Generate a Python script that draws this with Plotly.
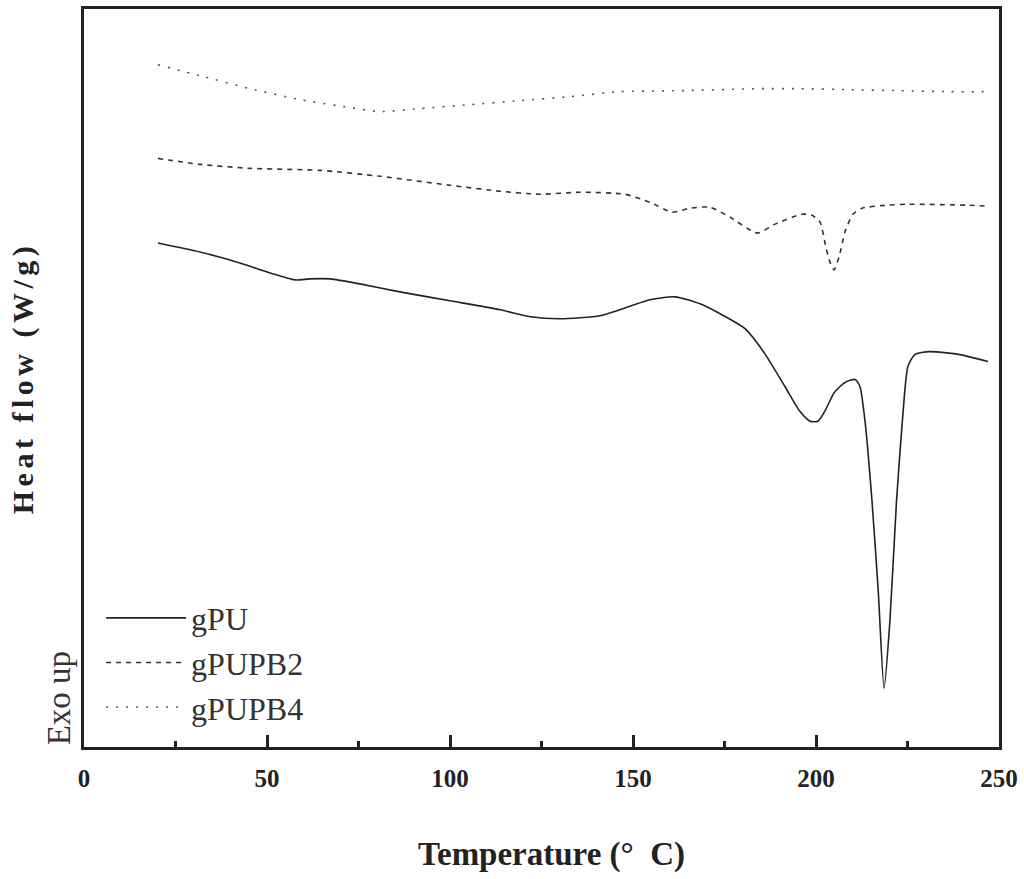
import plotly.graph_objects as go

# Temperature (°C) and heat flow (arbitrary units)
t_gpu = [20.2, 31.7, 42.6, 50.8, 57.7, 61.7, 67.2, 75.4, 86.3, 100.0, 113.7, 121.9, 130.0,
         141.0, 146.4, 154.6, 161.5, 168.3, 173.8, 180.6, 186.0, 191.5, 195.6, 198.4,
         200.5, 202.4, 205.0, 207.9, 210.7, 212.0, 213.4, 215.3, 217.0, 218.6, 220.2,
         222.0, 223.8, 225.1, 227.0, 231.0, 239.3, 247.0]
hf_gpu = [506, 497, 486, 476, 469, 470, 470, 465, 457, 448, 439, 432, 430,
          433, 439, 449, 452, 445, 435, 420, 395, 362, 337, 327,
          327, 337, 356, 366, 369, 362, 327, 247, 157, 59, 127,
          247, 337, 382, 394, 397, 394, 387]

t_b2 = [20.2, 31.7, 45.4, 64.5, 80.9, 100.0, 113.7, 124.6, 135.5, 147.8, 154.6, 160.7,
        165.6, 171.0, 176.5, 184.0, 188.8, 196.2, 198.9, 201.1, 202.7, 203.8, 204.9,
        206.3, 207.9, 210.1, 212.6, 219.4, 224.9, 241.3, 247.0]
hf_b2 = [591, 585, 581, 579, 573, 564, 558, 555, 557, 555, 547, 537,
         541, 542, 532, 516, 525, 535, 534, 527, 502, 487, 479,
         492, 517, 535, 541, 544, 545, 544, 543]

t_b4 = [20.2, 31.7, 45.4, 59.0, 72.7, 80.9, 91.8, 105.5, 119.1, 132.8, 146.4, 162.8,
        184.7, 195.6, 209.3, 222.9, 236.6, 247.0]
hf_b4 = [685, 674, 661, 650, 642, 638, 641, 645, 649, 653, 658, 659,
         661, 661, 660, 659, 658, 658]

x_ticks = [0, 50, 100, 150, 200, 250]
x_minor = [25, 75, 125, 175, 225]

serif = "Liberation Serif, Times New Roman, serif"

fig = go.Figure()
fig.add_trace(go.Scatter(x=t_gpu, y=hf_gpu, mode="lines", name="gPU", legendgroup="a",
                         line=dict(color="#222222", width=1.6, shape="spline", smoothing=0.6)))
fig.add_trace(go.Scatter(x=t_b2, y=hf_b2, mode="lines", name="gPUPB2", legendgroup="b",
                         line=dict(color="#333333", width=1.6, dash="5px,5px", shape="spline", smoothing=0.6)))
fig.add_trace(go.Scatter(x=t_b4, y=hf_b4, mode="lines", name="gPUPB4", legendgroup="c",
                         line=dict(color="#555555", width=1.6, dash="2px,8px", shape="spline", smoothing=0.6)))

fig.update_layout(
    width=1024, height=879,
    margin=dict(l=84, r=25, t=6, b=132),
    paper_bgcolor="white", plot_bgcolor="white",
    font=dict(family=serif, color="#222222"),
    showlegend=True,
    legend=dict(x=0.0187, y=0.212, xanchor="left", yanchor="top",
                bgcolor="rgba(0,0,0,0)", tracegroupgap=0,
                font=dict(family=serif, size=32, color="#333333"),
                itemwidth=80),
    xaxis=dict(range=[0, 250], tickvals=x_ticks, ticktext=[str(v) for v in x_ticks],
               showline=True, mirror=True, linecolor="#222222", linewidth=3,
               ticks="inside", ticklen=12, tickwidth=3, tickcolor="#222222",
               minor=dict(tickvals=x_minor, ticks="inside", ticklen=6,
                          tickwidth=3, tickcolor="#222222"),
               showgrid=False, zeroline=False,
               tickfont=dict(family=serif, size=25, weight="bold", color="#222222"),
               ticklabelstandoff=7),
    yaxis=dict(range=[0, 741], showline=True, mirror=True, linecolor="#222222", linewidth=3,
               showticklabels=False, ticks="", showgrid=False, zeroline=False,
               title=dict(text="Heat flow (W/g)", standoff=39,
                          font=dict(family=serif, size=30, weight="bold", color="#222222"))),
    annotations=[
        dict(text="Exo up", xref="paper", yref="paper", x=-0.027, y=0.0,
             xanchor="center", yanchor="bottom", textangle=-90, showarrow=False,
             font=dict(family=serif, size=33, color="#333333")),
        dict(text="<b>Temperature (°\u00a0\u00a0C)</b>", xref="paper", yref="paper",
             x=0.5108, y=-0.1457, xanchor="center", yanchor="middle", showarrow=False,
             font=dict(family=serif, size=33, color="#222222")),
    ],
)

post = """
document.body.style.margin = '0';
var gd = document.getElementById('{plot_id}');
var yt = gd.querySelector('.ytitle');
if (yt) { yt.style.letterSpacing = '4.5px'; }
"""

fig.write_html("out.html", post_script=post, config={"displayModeBar": False})
